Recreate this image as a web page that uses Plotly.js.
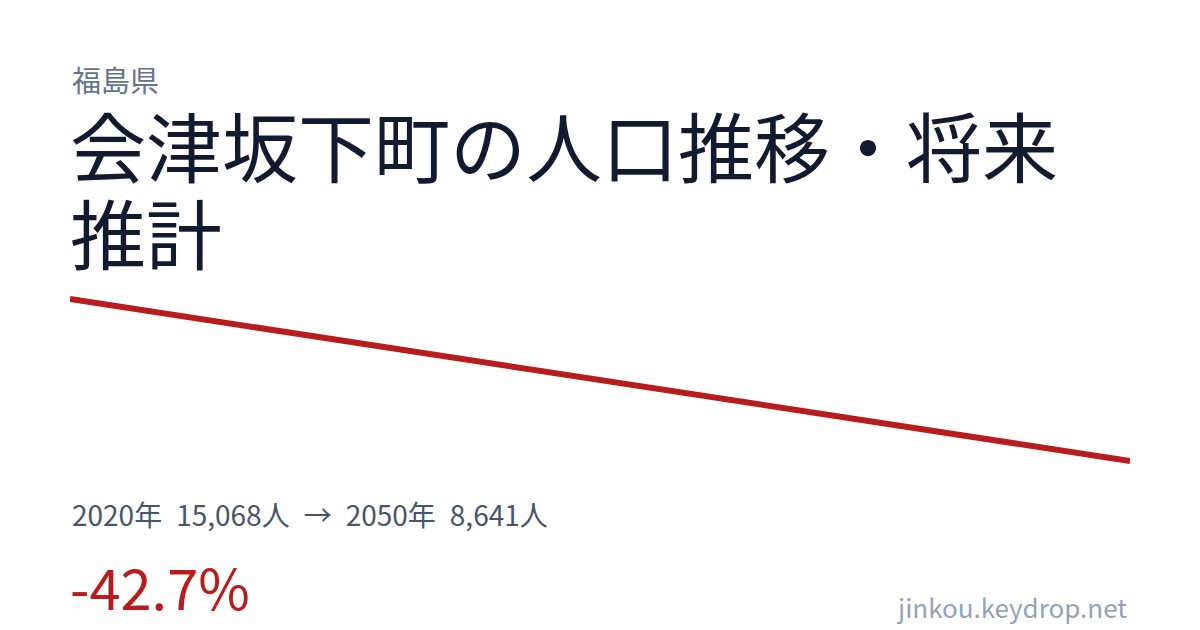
<!DOCTYPE html>
<html>
<head>
<meta charset="utf-8">
<script src="https://cdn.plot.ly/plotly-3.0.1.min.js"></script>
<style>
  html, body { margin: 0; padding: 0; background: #ffffff; }
  #chart { width: 1200px; height: 630px; }
</style>
</head>
<body>
<div id="chart"></div>
<script>
// population of the town, start and end of the projection
const years = [2020, 2050];
const population = [15068, 8641];

const prefecture = "福島県";
const titleLines = ["会津坂下町の人口推移・将来", "推計"];
const siteName = "jinkou.keydrop.net";

const change = ((population[1] - population[0]) / population[0] * 100).toFixed(1);
const fmt = n => n.toLocaleString("en-US");
const sp = "\u2002";
const summary = years[0] + "年" + sp + fmt(population[0]) + "人" + sp + "→" + sp +
    years[1] + "年" + sp + fmt(population[1]) + "人";

const font = '"Noto Sans CJK JP", "Noto Sans", sans-serif';

// page coords (px) -> paper coords
const px = x => x / 1200;
const py = y => 1 - y / 630;

const data = [{
    x: years,
    y: population,
    mode: "lines",
    line: {color: "#b91c1c", width: 6},
    hoverinfo: "skip"
}];

// plot box 70..1130 x 280..480, y range set so the ends land at 299 and 461
const perPx = (population[0] - population[1]) / 162;

const layout = {
    width: 1200,
    height: 630,
    margin: {l: 0, r: 0, t: 0, b: 0},
    paper_bgcolor: "#ffffff",
    plot_bgcolor: "#ffffff",
    showlegend: false,
    font: {family: font},
    xaxis: {
        domain: [px(70), px(1130)],
        range: [years[0], years[1]],
        visible: false,
        fixedrange: true
    },
    yaxis: {
        domain: [py(480), py(280)],
        range: [population[1] - 19 * perPx, population[0] + 19 * perPx],
        visible: false,
        fixedrange: true
    },
    annotations: [
        {text: prefecture, x: px(70), y: py(79), xref: "paper", yref: "paper",
         xanchor: "left", yanchor: "middle", showarrow: false,
         font: {size: 29, color: "#64748b", family: font}},
        {text: titleLines[0], x: px(68), y: py(144), xref: "paper", yref: "paper",
         xanchor: "left", yanchor: "middle", showarrow: false,
         font: {size: 76, color: "#111a2e", family: font}},
        {text: titleLines[1], x: px(68), y: py(231), xref: "paper", yref: "paper",
         xanchor: "left", yanchor: "middle", showarrow: false,
         font: {size: 76, color: "#111a2e", family: font}},
        {text: summary, x: px(70), y: py(514), xref: "paper", yref: "paper",
         xanchor: "left", yanchor: "middle", showarrow: false,
         font: {size: 28, color: "#475569", family: font}},
        {text: change + "%", x: px(68), y: py(585), xref: "paper", yref: "paper",
         xanchor: "left", yanchor: "middle", showarrow: false,
         font: {size: 56, color: "#b91c1c", family: font}},
        {text: siteName, x: px(1129), y: py(606), xref: "paper", yref: "paper",
         xanchor: "right", yanchor: "middle", showarrow: false,
         font: {size: 26, color: "#94a3b8", family: font}}
    ]
};

Plotly.newPlot("chart", data, layout, {displayModeBar: false, staticPlot: true});
</script>
</body>
</html>
